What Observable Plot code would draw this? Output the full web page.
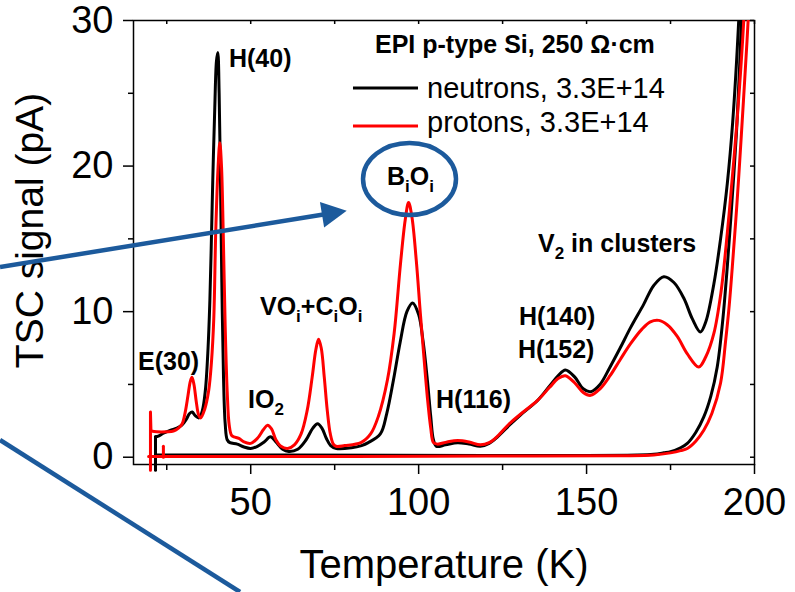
<!DOCTYPE html>
<html>
<head>
<meta charset="utf-8">
<script src="https://cdn.jsdelivr.net/npm/d3@7"></script>
<script src="https://cdn.jsdelivr.net/npm/@observablehq/plot@0.6"></script>
<style>
  html, body { margin: 0; padding: 0; background: #fff; }
</style>
</head>
<body>
<div id="chart"></div>
<script>
// ---------- data (Temperature K, TSC signal pA) ----------
const neutronsScan = [
  [21.65,1.4],[22.5,1.45],[24,1.65],[26,1.85],[28,2.0],[29.5,2.2],[30.8,2.6],[31.8,3.0],[32.6,3.1],
  [33.5,2.85],[34.6,2.7],[35.6,3.2],[36.5,4.6],[37.3,7.5],[37.8,10.5],[38.2,14],[38.7,19],[39.3,24],
  [39.8,27.2],[40.2,27.8],[40.6,25],[41.0,19],[41.4,12],[41.9,5.5],[42.4,2.3],[43.0,1.2],[43.8,1.0],
  [46,0.9],[48,0.7],[50,0.6],[52,0.75],[54,1.05],[55.9,1.4],[57.5,1.05],[59.5,0.55],[61.3,0.4],
  [64,0.55],[66.5,1.2],[68.5,2.0],[69.9,2.3],[71.2,2.0],[72.5,1.3],[73.8,0.8],[75.5,0.6],[80,0.65],
  [83,0.8],[85,1.0],[88.6,1.6],[90.5,3.0],[92.5,5.3],[94.5,7.9],[96.5,10.0],[98.2,10.6],[100,9.8],
  [101.3,8.0],[102.6,5.3],[103.6,2.8],[104.4,1.2],[105.3,0.75],[108,0.85],[111.6,1.0],[115,0.9],
  [118.4,0.75],[121,0.95],[123.5,1.4],[127,2.2],[130.3,2.9],[135.4,3.9],[139,4.9],[141.5,5.6],
  [143.7,6.0],[146.5,5.5],[149,4.7],[151.2,4.5],[154,5.0],[157,6.2],[160,7.5],[163.1,8.9],[167,10.5],
  [170,11.8],[173,12.4],[176,12.0],[179,10.9],[181.5,9.5],[183.9,8.6],[185.5,9.3],[187.9,11.9],
  [189.9,15.0],[191.9,18.8],[193.5,23],[195.3,30],[196,34]
];
const neutronsBase = [
  [21.65,0.15],[60,0.15],[120,0.12],[165,0.15],[170,0.2],[173,0.3],[175,0.38],[178,0.65],[180,0.95],
  [182.5,1.7],[184.9,2.77],[187,4.2],[188.9,6.2],[190.5,9.3],[191.9,13.1],[193.3,17.6],[194.6,22.2],
  [195.5,26.5],[196.1,30],[196.7,34]
];
const protonsScan = [
  [20.3,1.8],[22,1.75],[25,1.75],[27,1.8],[28.5,2.0],[29.6,2.3],[30.5,3.1],[31.3,4.2],[32.0,5.2],
  [32.5,5.5],[33.1,5.0],[33.8,3.8],[34.5,2.9],[35.1,2.7],[36.3,3.3],[37.5,4.6],[38.3,6.5],[39.0,9.5],
  [39.6,15.6],[40.3,20],[40.8,21.6],[41.3,20],[41.8,15.6],[42.4,9],[43.0,4.5],[43.6,2.2],[44.3,1.5],
  [45,1.4],[46.5,1.3],[48,1.05],[50,0.95],[52,1.3],[53.8,1.9],[55,2.2],[56.2,1.95],[57.5,1.2],
  [59,0.75],[61,0.6],[63,0.85],[65,1.6],[66.8,3.2],[68.3,5.5],[69.4,7.4],[70.2,8.1],[71,7.5],
  [71.9,5.5],[72.8,3.2],[73.7,1.6],[74.6,0.9],[75.4,0.75],[78,0.8],[82.8,1.0],[85.7,1.6],[88,2.8],
  [90.7,5.3],[92.7,8.5],[94.6,13.3],[96,16.3],[97,17.5],[98,16.5],[99.3,13.5],[100.5,9.9],[101.6,6.8],
  [102.6,4.1],[103.6,2.0],[104.4,1.0],[105.5,0.9],[108.5,1.05],[111.6,1.15],[115,1.05],[118.4,0.85],
  [121,1.0],[123.5,1.45],[127,2.3],[130.3,2.95],[135.4,3.9],[139,4.8],[141.5,5.4],[143.7,5.6],
  [146.5,5.1],[149,4.45],[151.2,4.25],[154,4.7],[157,5.6],[160,6.7],[163.1,7.8],[166.5,8.8],[169,9.3],
  [171.5,9.4],[174,9.1],[177,8.3],[180,7.1],[183.4,6.2],[185.5,6.9],[187.9,8.5],[190,11.3],
  [191.9,15.4],[193.5,19.5],[194.9,23.4],[196.8,30],[197.5,34]
];
const protonsBase = [
  [19.6,0.05],[40,0.05],[80,0.05],[120,0.08],[160,0.1],[170,0.15],[175,0.3],[178,0.45],[180,0.6],
  [182.5,1.1],[184.9,1.85],[187.3,3.0],[189.9,5.1],[191.4,8.0],[192.5,10.5],[193.4,13.1],[194.8,17.5],
  [196.1,22.2],[197.1,26],[198.1,30],[198.8,34]
];
// start-of-scan steps
const neutronsStep = [[21.65,-0.9],[21.65,1.4]];
const protonsStep = [[20.15,-0.9],[20.15,3.1],[20.3,1.8]];
const protonsTick = [[24.0,0.0],[24.0,0.75]];

// axes
const xMajor = [50, 100, 150, 200];
const xMinor = [25, 75, 125, 175];
const yMajor = [0, 10, 20, 30];
const yMinor = [5, 15, 25];
const xTitle = "Temperature (K)";
const yTitle = "TSC signal (pA)";

// legend
const legendTitle = "EPI p-type Si, 250 Ω·cm";
const seriesNames = ["neutrons, 3.3E+14", "protons, 3.3E+14"];
const seriesColors = ["#000000", "#ff0000"];

// peak labels ("_x" = subscript x), anchored at left/baseline in data units
const peakLabels = [
  {text: "H(40)", t: 43.68, v: 26.77},
  {text: "E(30)", t: 16.59, v: 5.96},
  {text: "IO_2", t: 49.34, v: 3.35},
  {text: "VO_i+C_iO_i", t: 52.91, v: 9.74},
  {text: "B_iO_i", t: 90.73, v: 18.67},
  {text: "H(116)", t: 105.32, v: 3.35},
  {text: "H(140)", t: 130.03, v: 9.05},
  {text: "H(152)", t: 129.73, v: 6.78},
  {text: "V_2 in clusters", t: 135.69, v: 14.06}
];
// callout ellipse (center t,v ; radii in K, pA) and pointer lines
const callout = {t: 97.43, v: 19.08, rt: 13.84, rv: 2.47};
const pointers = [
  {from: [-24.5, 13.03], to: [78.73, 16.9], head: true},
  {from: [-24.5, 1.15], to: [46.96, -9.29], head: false}
];
const legendPos = {titleT: 87.15, titleV: 27.73, keyT1: 80.6, keyT2: 99.96, textT: 102.64,
  keyV: [25.33, 22.72], textV: [24.64, 22.31]};

// ---------- rendering ----------
const FONT = "'Liberation Sans', Arial, Helvetica, sans-serif";
const BLUE = "#1c5a9c";
const rows = (pts) => pts.map(([t, v]) => ({t, v}));

function overlay(index, scales) {
  const x = scales.x, y = scales.y;
  const g = d3.create("svg:g").attr("font-family", FONT).attr("fill", "#000")
    .attr("text-anchor", "start");

  // ellipse
  g.append("ellipse")
    .attr("cx", x(callout.t)).attr("cy", y(callout.v))
    .attr("rx", x(callout.t + callout.rt) - x(callout.t))
    .attr("ry", y(callout.v) - y(callout.v + callout.rv))
    .attr("fill", "none").attr("stroke", BLUE).attr("stroke-width", 4.5);

  // pointers
  for (const p of pointers) {
    const x1 = x(p.from[0]), y1 = y(p.from[1]), x2 = x(p.to[0]), y2 = y(p.to[1]);
    if (p.head) {
      const a = Math.atan2(y2 - y1, x2 - x1), L = 25, W = 13;
      const bx = x2 - L * Math.cos(a), by = y2 - L * Math.sin(a);
      g.append("line").attr("x1", x1).attr("y1", y1)
        .attr("x2", bx + 3 * Math.cos(a)).attr("y2", by + 3 * Math.sin(a))
        .attr("stroke", BLUE).attr("stroke-width", 4.5);
      g.append("path")
        .attr("d", `M${x2},${y2}L${bx - W * Math.sin(a)},${by + W * Math.cos(a)}L${bx + W * Math.sin(a)},${by - W * Math.cos(a)}Z`)
        .attr("fill", BLUE);
    } else {
      g.append("line").attr("x1", x1).attr("y1", y1).attr("x2", x2).attr("y2", y2)
        .attr("stroke", BLUE).attr("stroke-width", 4.5);
    }
  }

  // peak labels with subscripts
  for (const l of peakLabels) {
    const t = g.append("text").attr("x", x(l.t)).attr("y", y(l.v))
      .attr("font-size", 25).attr("font-weight", "bold");
    const parts = l.text.split(/(_.)/).filter(s => s.length);
    let lowered = false;
    for (const s of parts) {
      if (s[0] === "_") {
        t.append("tspan").attr("font-size", 17).attr("dy", lowered ? 0 : 7).text(s[1]);
        lowered = true;
      } else {
        t.append("tspan").attr("dy", lowered ? -7 : 0).text(s);
        lowered = false;
      }
    }
  }

  // legend
  g.append("text").attr("x", x(legendPos.titleT)).attr("y", y(legendPos.titleV))
    .attr("font-size", 25).attr("font-weight", "bold").text(legendTitle);
  seriesNames.forEach((name, i) => {
    g.append("line")
      .attr("x1", x(legendPos.keyT1)).attr("x2", x(legendPos.keyT2))
      .attr("y1", y(legendPos.keyV[i])).attr("y2", y(legendPos.keyV[i]))
      .attr("stroke", seriesColors[i]).attr("stroke-width", 3);
    g.append("text").attr("x", x(legendPos.textT)).attr("y", y(legendPos.textV[i]))
      .attr("font-size", 29).text(name);
  });
  return g.node();
}

const lineOpts = (color) => ({x: "t", y: "v", stroke: color, strokeWidth: 3, curve: "catmull-rom", clip: true});
const stepOpts = (color) => ({x: "t", y: "v", stroke: color, strokeWidth: 3});

const chart = Plot.plot({
  width: 795,
  height: 592,
  marginLeft: 133,
  marginRight: 41,
  marginTop: 20,
  marginBottom: 128,
  style: {fontFamily: FONT, color: "#000", background: "#fff", overflow: "visible"},
  x: {domain: [15.1, 200]},
  y: {domain: [-0.5, 30]},
  marks: [
    Plot.frame({stroke: "#000", strokeWidth: 1.5}),
    Plot.ruleX(xMajor.concat(xMinor), {insetBottom: 440, stroke: "#000", strokeWidth: 1.5}),
    Plot.ruleY(yMajor.concat(yMinor), {insetLeft: 617, stroke: "#000", strokeWidth: 1.5}),
    Plot.axisX(xMajor, {tickSize: 10, tickPadding: 14, fontSize: 38, label: null, strokeWidth: 1.5}),
    Plot.axisX(xMinor, {tickSize: 6, tickFormat: () => "", label: null, strokeWidth: 1.5}),
    Plot.axisY(yMajor, {tickSize: 10, tickPadding: 10, fontSize: 38, label: null, strokeWidth: 1.5}),
    Plot.axisY(yMinor, {tickSize: 5, tickFormat: () => "", label: null, strokeWidth: 1.5}),
    Plot.text([xTitle], {frameAnchor: "bottom", textAnchor: "middle", lineAnchor: "bottom", dy: 113, fontSize: 40}),
    Plot.text([yTitle], {frameAnchor: "left", textAnchor: "middle", lineAnchor: "middle", rotate: -90, dx: -103, dy: -12, fontSize: 39}),
    Plot.line(rows(neutronsBase), lineOpts("#000000")),
    Plot.line(rows(neutronsScan), lineOpts("#000000")),
    Plot.line(rows(neutronsStep), stepOpts("#000000")),
    Plot.line(rows(protonsBase), lineOpts("#ff0000")),
    Plot.line(rows(protonsScan), lineOpts("#ff0000")),
    Plot.line(rows(protonsStep), stepOpts("#ff0000")),
    Plot.line(rows(protonsTick), stepOpts("#ff0000")),
    overlay
  ]
});
document.getElementById("chart").appendChild(chart);
</script>
</body>
</html>
